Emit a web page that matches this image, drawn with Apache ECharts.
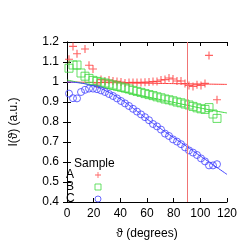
<!DOCTYPE html>
<html><head><meta charset="utf-8">
<script src="https://cdn.jsdelivr.net/npm/echarts@6/dist/echarts.min.js"></script>
<style>html,body{margin:0;padding:0;background:#fff}#c{width:247px;height:245px}</style>
</head><body><div id="c"></div>
<script>
const angles = [1.5,4.5,7.5,10.5,13.5,16.5,19.5,22.5,25.5,28.5,31.5,34.5,37.5,40.5,43.5,46.5,49.5,52.5,55.5,58.5,61.5,64.5,67.5,70.5,73.5,76.5,79.5,82.5,85.5,88.5,91.5,94.5,97.5,100.5,103.5,106.5,109.5,112.5];
const sampleA = [1.114,1.178,1.141,null,1.165,1.084,1.065,0.990,1.012,1.005,1.010,1.005,1.003,1.000,0.995,0.997,0.998,0.997,0.998,0.999,1.000,1.002,1.003,1.010,1.012,1.020,1.015,1.005,1.005,0.992,0.983,0.978,0.986,0.983,0.993,1.133,null,0.911];
const sampleB = [1.069,1.085,1.085,1.045,1.029,1.018,1.008,1.003,0.999,0.995,0.990,0.985,0.980,0.975,0.970,0.965,0.958,0.953,0.948,0.942,0.937,0.932,0.926,0.921,0.915,0.911,0.906,0.900,0.896,0.890,0.885,0.878,0.871,0.866,0.863,0.872,0.840,0.818];
const sampleC = [0.942,0.919,0.918,0.950,0.961,0.967,0.967,0.964,0.958,0.950,0.940,0.930,0.918,0.905,0.893,0.880,0.866,0.852,0.838,0.824,0.809,0.790,0.778,0.762,0.742,0.730,0.713,0.702,0.689,0.673,0.658,0.647,0.635,0.618,0.603,0.583,0.583,0.589];
const fitX = [0,10,20,30,40,50,60,70,80,90,100,110,120];
const fitA = [1.000,0.999,0.998,0.997,0.996,0.995,0.994,0.993,0.992,0.991,0.990,0.989,0.988];
const fitB = [1.010,0.996,0.982,0.968,0.954,0.940,0.926,0.912,0.898,0.884,0.870,0.857,0.845];
const fitC = [1.000,0.995,0.980,0.953,0.915,0.867,0.815,0.768,0.722,0.677,0.630,0.584,0.538];
const xTicks = [0,20,40,60,80,100,120];
const yTicks = [0.4,0.5,0.6,0.7,0.8,0.9,1.0,1.1,1.2];
const markX = 90;

const RED='#ff3c3c', GREEN='#3fd83f', BLUE='#4242ff';
const crossPath = 'path://M4.3,0H5.7V4.3H10V5.7H5.7V10H4.3V5.7H0V4.3H4.3Z';
const pair = (xs, ys) => xs.map((x,i)=>[x, ys[i]]);
const font = 'Liberation Sans, Arial, sans-serif';
const FS = 12;
const chart = echarts.init(document.getElementById('c'));
const axisCommon = {
  axisLine:{show:true, lineStyle:{color:'#000', width:1}},
  axisTick:{show:true, inside:true, length:4, lineStyle:{color:'#000'}},
  splitLine:{show:false}
};
chart.setOption({
  animation:false,
  title:{text:'Sample', left:74, top:158, padding:0, textStyle:{fontFamily:font, fontSize:FS, fontWeight:'normal', color:'#000'}},
  legend:{
    orient:'vertical', left:66, top:169, padding:0, align:'right', itemGap:0, itemWidth:6, itemHeight:6,
    itemStyle:{borderWidth:1},
    data:['A','B','C'],
    formatter: n => '{t|'+n+'}',
    textStyle:{fontFamily:font, fontSize:FS, color:'#000', rich:{t:{width:24, height:11.7, lineHeight:11.7, align:'left', fontSize:FS, fontFamily:font}}}
  },
  grid:{left:60, right:20, top:42, bottom:36},
  xAxis:[
    Object.assign({type:'value', min:0, max:120, interval:20, position:'bottom',
      name:'ϑ (degrees)', nameLocation:'middle', nameGap:26,
      nameTextStyle:{fontFamily:font, fontSize:FS, color:'#000'},
      axisLabel:{fontFamily:font, fontSize:FS, color:'#000', margin:6,
        formatter: v => xTicks.includes(v) ? String(v) : ''}}, axisCommon),
    Object.assign({type:'value', min:0, max:120, interval:20, position:'top', axisLabel:{show:false}}, axisCommon)
  ],
  yAxis:[
    Object.assign({type:'value', min:0.4, max:1.2, interval:0.1, position:'left',
      name:'I(ϑ) (a.u.)', nameLocation:'middle', nameGap:47,
      nameTextStyle:{fontFamily:font, fontSize:FS, color:'#000'},
      axisLabel:{fontFamily:font, fontSize:FS, color:'#000', margin:8,
        formatter: v => { const t = yTicks.find(y=>Math.abs(y-v)<1e-6); return t===undefined?'':String(parseFloat(t.toFixed(1))); }}}, axisCommon),
    Object.assign({type:'value', min:0.4, max:1.2, interval:0.1, position:'right', axisLabel:{show:false}}, axisCommon)
  ],
  series:[
    {name:'fitA', type:'line', data:pair(fitX, fitA), showSymbol:false, smooth:true, lineStyle:{color:RED, width:1}, z:2, silent:true},
    {name:'fitB', type:'line', data:pair(fitX, fitB), showSymbol:false, smooth:true, lineStyle:{color:GREEN, width:1}, z:2, silent:true},
    {name:'fitC', type:'line', data:pair(fitX, fitC), showSymbol:false, smooth:true, lineStyle:{color:BLUE, width:1}, z:2, silent:true,
      markLine:{silent:true, symbol:'none', label:{show:false}, lineStyle:{color:'#f07474', width:1, type:'solid'}, data:[{xAxis:markX}]}},
    {name:'A', type:'scatter', data:pair(angles, sampleA), symbol:crossPath, symbolSize:8, itemStyle:{color:RED}, z:3},
    {name:'B', type:'scatter', data:pair(angles, sampleB), symbol:'rect', symbolSize:8, itemStyle:{color:'rgba(0,0,0,0)', borderColor:GREEN, borderWidth:1}, z:3},
    {name:'C', type:'scatter', data:pair(angles, sampleC), symbol:'circle', symbolSize:7, itemStyle:{color:'rgba(0,0,0,0)', borderColor:BLUE, borderWidth:1}, z:3}
  ]
});
</script></body></html>
